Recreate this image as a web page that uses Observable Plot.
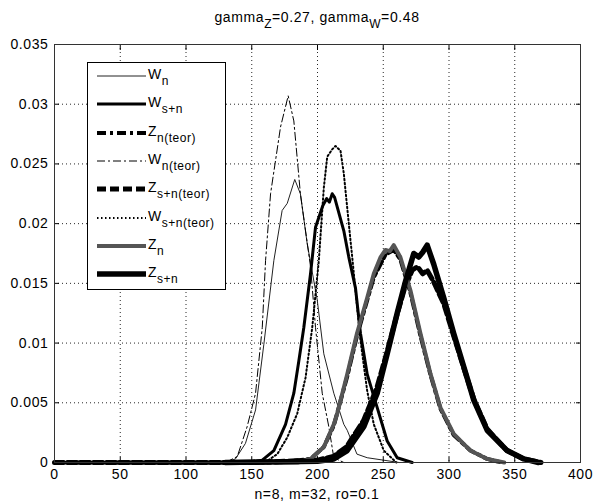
<!DOCTYPE html>
<html>
<head>
<meta charset="utf-8">
<script src="https://cdn.jsdelivr.net/npm/d3@7"></script>
<script src="https://cdn.jsdelivr.net/npm/@observablehq/plot@0.6"></script>
<style>
  html, body { margin: 0; padding: 0; background: #fff; }
  #wrap { position: relative; width: 593px; height: 503px; font-family: "Liberation Sans", Arial, sans-serif; color: #000; }
  #chart { position: absolute; left: 0; top: 0; }
  .txt { position: absolute; font-size: 14px; line-height: 16px; letter-spacing: 0.6px; white-space: nowrap; }
  .sub { font-size: 12px; position: relative; top: 6px; }
  #legend { position: absolute; left: 87px; top: 62px; width: 139px; height: 228px; box-sizing: border-box; border: 1px solid #000; background: #fff; }
  .row { position: absolute; left: 0; width: 137px; height: 28.5px; }
  .row svg { position: absolute; left: 8px; top: 0; }
  .row .lab { position: absolute; left: 60px; top: 3px; font-size: 14px; line-height: 16px; letter-spacing: 0.5px; white-space: nowrap; }
</style>
</head>
<body>
<div id="wrap">
  <div id="chart"></div>
  <div class="txt" style="left:54px; width:526px; top:9px; text-align:center;">gamma<span class="sub">Z</span>=0.27, gamma<span class="sub">W</span>=0.48</div>
  <div class="txt" style="left:54px; width:526px; top:486px; text-align:center;">n=8, m=32, ro=0.1</div>
  <div id="legend"></div>
</div>
<script>
// ---- Data ----
const xTicks = [0, 50, 100, 150, 200, 250, 300, 350, 400];
const yTicks = [0, 0.005, 0.01, 0.015, 0.02, 0.025, 0.03, 0.035];

const seriesNames = ["W|n", "W|s+n", "Z|n(teor)", "W|n(teor)", "Z|s+n(teor)", "W|s+n(teor)", "Z|n", "Z|s+n"];

// W_n (empirical)
const wnX = [130, 137.6, 145.2, 152.9, 159.2, 166.8, 173.1, 177, 182.7, 187, 192.2, 199.8, 204.8, 212.4, 220, 222.6, 230, 237.8, 250, 262];
const wnY = [0, 0.0003, 0.0016, 0.0044, 0.0099, 0.0169, 0.0211, 0.0217, 0.0237, 0.0225, 0.0183, 0.0136, 0.0091, 0.0058, 0.0032, 0.0027, 0.0007, 0.0004, 0.0002, 0];
// W_s+n (empirical)
const wsnX = [145, 158, 166.8, 175.7, 182, 185.8, 189.6, 194.7, 198.5, 204, 207, 209, 211.2, 213, 220, 223.8, 228.9, 232.7, 237.8, 245.4, 253, 260.6, 272];
const wsnY = [0, 0.0002, 0.001, 0.0032, 0.0058, 0.0085, 0.0113, 0.0158, 0.0197, 0.0215, 0.0221, 0.0218, 0.0225, 0.0222, 0.0194, 0.0172, 0.0146, 0.0108, 0.0074, 0.0046, 0.0018, 0.0004, 0];
// Z_n(teor)
const zntX = [0, 60, 120, 170, 194.7, 204.8, 212.4, 222.6, 230, 237.8, 242.8, 251.7, 258, 263, 270.7, 278.3, 286, 293.5, 303.6, 316.3, 329, 340];
const zntY = [0, 0, 0, 0, 0.0003, 0.0013, 0.0031, 0.0072, 0.0106, 0.0136, 0.0155, 0.0174, 0.0178, 0.017, 0.0142, 0.0106, 0.0073, 0.0045, 0.0023, 0.001, 0.0003, 0];
// W_n(teor)
const wntX = [130, 139, 146.5, 152.9, 158, 160.5, 164.3, 171.9, 177.7, 182, 187, 194.7, 198.5, 203.6, 208.6, 212.4, 220];
const wntY = [0, 0.0005, 0.003, 0.0058, 0.0113, 0.0169, 0.0225, 0.0281, 0.0307, 0.0286, 0.0225, 0.0164, 0.0113, 0.0058, 0.003, 0.0004, 0];
// Z_s+n(teor)
const zsntX = [0, 80, 150, 200, 212, 222, 235, 245, 253, 260, 266, 272, 276, 280, 283.4, 288, 296, 303.6, 311.3, 318.9, 329, 344, 357, 370];
const zsntY = [0, 0, 0, 0.0002, 0.0005, 0.0013, 0.0035, 0.0062, 0.0093, 0.0122, 0.0145, 0.0161, 0.0164, 0.0158, 0.0161, 0.0152, 0.0133, 0.0106, 0.0079, 0.0053, 0.0028, 0.001, 0.0003, 0];
// W_s+n(teor)
const wsntX = [160, 169.4, 177, 184.6, 190.9, 196, 201, 204.8, 207.4, 211, 213.7, 217.5, 220, 223.8, 226.4, 228.9, 232.7, 237.8, 242.8, 250.4, 260];
const wsntY = [0, 0.0007, 0.0021, 0.0041, 0.0071, 0.0113, 0.0169, 0.023, 0.0256, 0.0262, 0.0265, 0.0261, 0.0242, 0.02, 0.0172, 0.0144, 0.0102, 0.006, 0.0032, 0.001, 0];
// Z_n (empirical)
const znX = [172, 185, 194.7, 204.8, 212.4, 215, 222.6, 230, 237.8, 242.8, 248, 251.7, 255, 258, 263, 270.7, 278.3, 286, 293.5, 303.6, 316.3, 329, 342];
const znY = [0, 0, 0.0003, 0.0013, 0.0032, 0.0041, 0.0074, 0.0108, 0.0138, 0.0158, 0.0172, 0.0178, 0.0177, 0.0182, 0.0172, 0.0144, 0.0108, 0.0074, 0.0046, 0.0024, 0.001, 0.0003, 0];
// Z_s+n (empirical)
const zsnX = [130, 200, 212.4, 222.6, 235.2, 245.4, 253, 260.6, 267, 273.2, 277, 280, 283.4, 288.4, 296, 303.6, 311.3, 318.9, 329, 344.2, 356.9, 368];
const zsnY = [0, 0.0001, 0.0003, 0.001, 0.003, 0.0058, 0.0091, 0.0125, 0.0152, 0.0175, 0.0172, 0.0176, 0.0182, 0.0166, 0.0138, 0.0108, 0.008, 0.0052, 0.0027, 0.001, 0.0003, 0];

const seriesX = [wnX, wsnX, zntX, wntX, zsntX, wsntX, znX, zsnX];
const seriesY = [wnY, wsnY, zntY, wntY, zsntY, wsntY, znY, zsnY];

// ---- Styles ----
const styles = [
  {stroke: "#222", width: 1, dash: null},
  {stroke: "#000", width: 3, dash: null},
  {stroke: "#000", width: 4, dash: "9,4,3,4"},
  {stroke: "#000", width: 1, dash: "8,3,2,3"},
  {stroke: "#000", width: 5, dash: "9,4"},
  {stroke: "#000", width: 2, dash: "1.5,2.5"},
  {stroke: "#555", width: 4, dash: null},
  {stroke: "#000", width: 5.5, dash: null}
];

const lineMarks = seriesNames.map((name, i) => {
  const rows = seriesX[i].map((x, j) => ({x, y: seriesY[i][j]}));
  return Plot.line(rows, {
    x: "x", y: "y",
    stroke: styles[i].stroke,
    strokeWidth: styles[i].width,
    strokeDasharray: styles[i].dash,
    strokeLinejoin: "round"
  });
});

const fmt = d3.format("~g");

const chart = Plot.plot({
  width: 593,
  height: 503,
  marginLeft: 54,
  marginRight: 13,
  marginTop: 44,
  marginBottom: 41,
  style: {fontFamily: "'Liberation Sans', Arial, sans-serif", fontSize: "14px", letterSpacing: "0.6px", color: "#000", background: "#fff"},
  x: {domain: [0, 400]},
  y: {domain: [0, 0.035]},
  marks: [
    Plot.gridX(xTicks, {stroke: "#000", strokeOpacity: 0.85, strokeDasharray: "1,3"}),
    Plot.gridY(yTicks, {stroke: "#000", strokeOpacity: 0.85, strokeDasharray: "1,3"}),
    ...lineMarks,
    Plot.axisX(xTicks, {anchor: "bottom", tickSize: -5, tickPadding: 12, tickFormat: fmt, label: null}),
    Plot.axisX(xTicks, {anchor: "top", tickSize: -5, tickFormat: () => "", label: null}),
    Plot.axisY(yTicks, {anchor: "left", tickSize: -5, tickPadding: 11, tickFormat: fmt, label: null}),
    Plot.axisY(yTicks, {anchor: "right", tickSize: -5, tickFormat: () => "", label: null}),
    Plot.frame({stroke: "#333", strokeWidth: 1})
  ]
});
document.getElementById("chart").appendChild(chart);

// ---- Legend ----
const legend = document.getElementById("legend");
seriesNames.forEach((name, i) => {
  const [main, sub] = name.split("|");
  const row = document.createElement("div");
  row.className = "row";
  row.style.top = (i * 28.3) + "px";
  const s = styles[i];
  row.innerHTML =
    `<svg width="52" height="28"><line x1="1" x2="50" y1="13" y2="13" stroke="${s.stroke}" stroke-width="${s.width}" ${s.dash ? `stroke-dasharray="${s.dash}"` : ""}/></svg>` +
    `<span class="lab">${main}<span class="sub">${sub}</span></span>`;
  legend.appendChild(row);
});
</script>
</body>
</html>
